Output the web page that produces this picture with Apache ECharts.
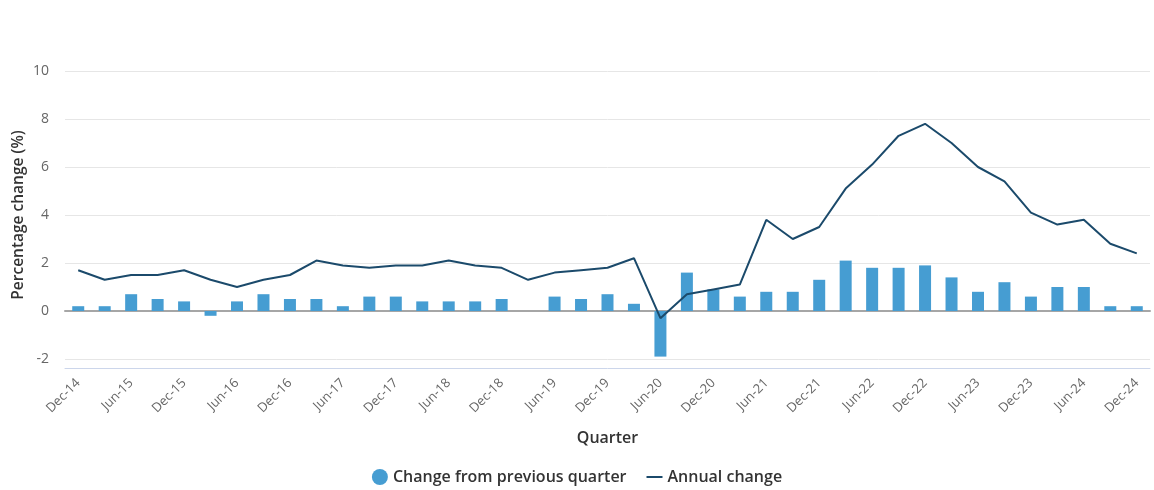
<!DOCTYPE html>
<html>
<head>
<meta charset="utf-8">
<script src="https://cdn.jsdelivr.net/npm/echarts@6/dist/echarts.min.js"></script>
<style>
html,body{margin:0;padding:0;background:#fff;}
#chart{width:1154px;height:490px;}
</style>
</head>
<body>
<div id="chart"></div>
<script>
const categories = ["Dec-14","Mar-15","Jun-15","Sep-15","Dec-15","Mar-16","Jun-16","Sep-16","Dec-16","Mar-17","Jun-17","Sep-17","Dec-17","Mar-18","Jun-18","Sep-18","Dec-18","Mar-19","Jun-19","Sep-19","Dec-19","Mar-20","Jun-20","Sep-20","Dec-20","Mar-21","Jun-21","Sep-21","Dec-21","Mar-22","Jun-22","Sep-22","Dec-22","Mar-23","Jun-23","Sep-23","Dec-23","Mar-24","Jun-24","Sep-24","Dec-24"];
const quarterlyChange = [0.2,0.2,0.7,0.5,0.4,-0.2,0.4,0.7,0.5,0.5,0.2,0.6,0.6,0.4,0.4,0.4,0.5,0.0,0.6,0.5,0.7,0.3,-1.9,1.6,0.9,0.6,0.8,0.8,1.3,2.1,1.8,1.8,1.9,1.4,0.8,1.2,0.6,1.0,1.0,0.2,0.2];
const annualChange = [1.7,1.3,1.5,1.5,1.7,1.3,1.0,1.3,1.5,2.1,1.9,1.8,1.9,1.9,2.1,1.9,1.8,1.3,1.6,1.7,1.8,2.2,-0.3,0.7,0.9,1.1,3.8,3.0,3.5,5.1,6.1,7.3,7.8,7.0,6.0,5.4,4.1,3.6,3.8,2.8,2.4];
const yTicks = {min: -2, max: 10, interval: 2};

const FONT = '"Open Sans", "Noto Sans", sans-serif';
const chart = echarts.init(document.getElementById('chart'), null, {renderer: 'canvas'});
chart.setOption({
  animation: false,
  textStyle: {fontFamily: FONT},
  grid: {left: 65, right: 4, top: 71, bottom: 131, containLabel: false, outerBoundsMode: 'none'},
  legend: {
    bottom: 0,
    left: 'center',
    itemGap: 20,
    itemWidth: 16,
    itemHeight: 16,
    textStyle: {fontFamily: FONT, fontSize: 16, fontWeight: 600, color: '#333'},
    data: [
      {name: 'Change from previous quarter', icon: 'circle'},
      {name: 'Annual change', icon: 'path://M0,7 H16 V9 H0 Z'}
    ]
  },
  xAxis: [
    {
      type: 'category',
      data: categories,
      offset: 9,
      name: 'Quarter',
      nameLocation: 'middle',
      nameGap: 62,
      nameMoveOverlap: false,
      nameTextStyle: {fontFamily: FONT, fontSize: 16, fontWeight: 600, color: '#333'},
      axisLine: {onZero: false, lineStyle: {color: '#ccd6eb', width: 1}},
      axisTick: {show: false},
      axisLabel: {interval: 1, rotate: 45, color: '#666', fontSize: 13, margin: 13, fontFamily: FONT},
      splitLine: {show: false}
    },
    {
      type: 'category',
      data: categories,
      axisLine: {onZero: true, lineStyle: {color: '#a6a6a6', width: 2}},
      axisTick: {show: false},
      axisLabel: {show: false},
      splitLine: {show: false}
    }
  ],
  yAxis: {
    type: 'value',
    min: yTicks.min,
    max: yTicks.max,
    interval: yTicks.interval,
    name: 'Percentage change (%)',
    nameLocation: 'middle',
    nameGap: 38,
    nameMoveOverlap: false,
    nameTextStyle: {fontFamily: FONT, fontSize: 15.5, fontWeight: 600, color: '#333'},
    axisLine: {show: false},
    axisTick: {show: false},
    axisLabel: {color: '#666', fontSize: 14, margin: 16, fontFamily: FONT},
    splitLine: {lineStyle: {color: '#e6e6e6', width: 1}}
  },
  series: [
    {
      name: 'Change from previous quarter',
      type: 'bar',
      xAxisIndex: 0,
      data: quarterlyChange,
      barWidth: 12,
      itemStyle: {color: '#469dd2'},
      z: 3
    },
    {
      name: 'Annual change',
      type: 'line',
      xAxisIndex: 0,
      data: annualChange,
      symbol: 'none',
      lineStyle: {color: '#1b4a6b', width: 2},
      itemStyle: {color: '#1b4a6b'},
      z: 4
    }
  ]
});
</script>
</body>
</html>
